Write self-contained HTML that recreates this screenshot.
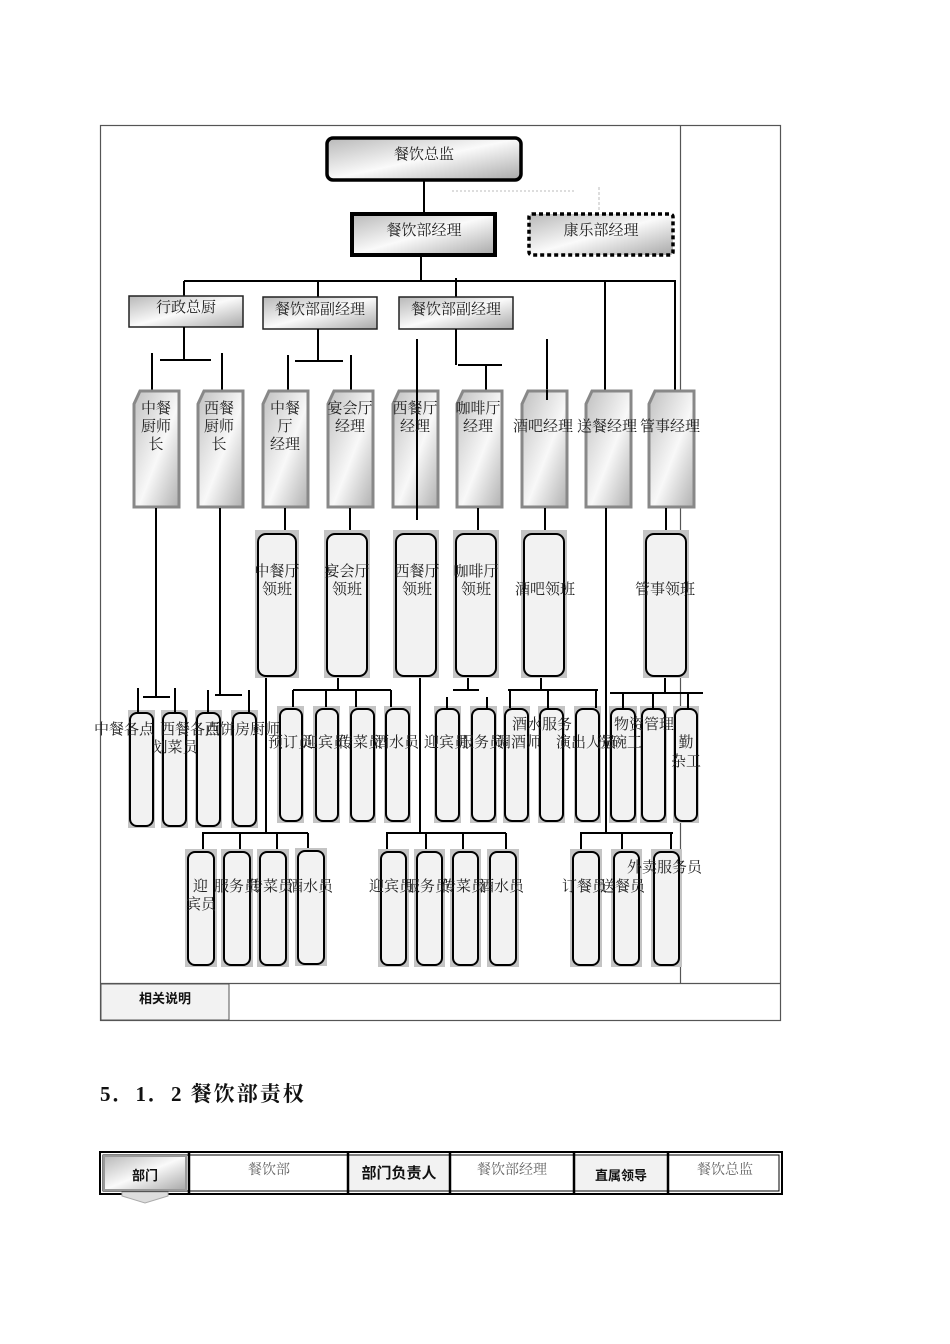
<!DOCTYPE html>
<html><head><meta charset="utf-8"><style>
body{margin:0;background:#fff}
svg{display:block}
text{font-family:"Liberation Serif","Noto Serif CJK SC","Noto Sans CJK SC",serif;font-size:15px;fill:#222}
.b{font-family:"Liberation Sans","Noto Sans CJK SC",sans-serif;font-weight:bold;font-size:13px;fill:#111}
.g{fill:#666;font-size:14px}
</style></head><body>
<svg width="950" height="1344" viewBox="0 0 950 1344" xmlns="http://www.w3.org/2000/svg">
<defs>
<linearGradient id="gr" x1="0" y1="0" x2="1" y2="1">
<stop offset="0" stop-color="#b8b8b8"/><stop offset="0.5" stop-color="#fafafa"/><stop offset="1" stop-color="#a8a8a8"/></linearGradient>
<linearGradient id="gt" x1="0" y1="0" x2="1" y2="1">
<stop offset="0" stop-color="#c0c0c0"/><stop offset="0.55" stop-color="#f8f8f8"/><stop offset="1" stop-color="#b0b0b0"/></linearGradient>
</defs>
<g fill="none" stroke="#555" stroke-width="1.2">
<rect x="100.5" y="125.5" width="680" height="895"/>
<line x1="680.5" y1="125" x2="680.5" y2="983"/>
<line x1="100" y1="983.5" x2="780" y2="983.5"/>
</g>
<rect x="101" y="984" width="128" height="36" fill="#f2f2f2" stroke="#555"/>
<text class="b" x="165" y="1003" text-anchor="middle">相关说明</text>

<rect x="327" y="138" width="194" height="42" rx="6" fill="url(#gr)" stroke="#000" stroke-width="3.5"/>
<text x="424" y="159" text-anchor="middle">餐饮总监</text>
<g stroke="#000" stroke-width="2" fill="none">
<line x1="424" y1="180" x2="424" y2="213"/>
<line x1="421" y1="256" x2="421" y2="281"/>
<line x1="184" y1="281" x2="676" y2="281"/>
<line x1="184" y1="281" x2="184" y2="296"/>
<line x1="318" y1="281" x2="318" y2="297"/>
<line x1="456" y1="278" x2="456" y2="297"/>
<line x1="605" y1="281" x2="605" y2="390"/>
<line x1="675" y1="281" x2="675" y2="390"/>
</g>
<line x1="452" y1="191" x2="575" y2="191" stroke="#bbb" stroke-dasharray="2,2"/>
<line x1="599" y1="187" x2="599" y2="212" stroke="#bbb" stroke-dasharray="3,2"/>
<rect x="352" y="214" width="143" height="41" fill="url(#gr)" stroke="#000" stroke-width="4"/>
<text x="424" y="235" text-anchor="middle">餐饮部经理</text>
<rect x="529" y="214" width="144" height="41" rx="3" fill="url(#gr)" stroke="#000" stroke-width="3.5" stroke-dasharray="4,3"/>
<text x="601" y="235" text-anchor="middle">康乐部经理</text>

<g fill="url(#gr)" stroke="#222" stroke-width="1.5">
<rect x="129" y="296" width="114" height="31"/>
<rect x="263" y="297" width="114" height="32"/>
<rect x="399" y="297" width="114" height="32"/>
</g>
<text x="186" y="312" text-anchor="middle">行政总厨</text>
<text x="320" y="314" text-anchor="middle">餐饮部副经理</text>
<text x="456" y="314" text-anchor="middle">餐饮部副经理</text>

<g stroke="#000" stroke-width="2" fill="none">
<line x1="184" y1="327" x2="184" y2="360"/><line x1="160" y1="360" x2="211" y2="360"/>
<line x1="152" y1="353" x2="152" y2="390"/><line x1="222" y1="353" x2="222" y2="390"/>
<line x1="318" y1="329" x2="318" y2="361"/><line x1="295" y1="361" x2="343" y2="361"/>
<line x1="288" y1="355" x2="288" y2="390"/><line x1="351" y1="355" x2="351" y2="390"/>
<line x1="456" y1="329" x2="456" y2="365"/><line x1="458" y1="365" x2="502" y2="365"/>
<line x1="486" y1="365" x2="486" y2="390"/>
<line x1="547" y1="339" x2="547" y2="400"/>
</g>

<g fill="url(#gt)" stroke="#888" stroke-width="3">
<path d="M140 391H179V507H134V404Z"/>
<path d="M204 391H243V507H198V404Z"/>
<path d="M269 391H308V507H263V404Z"/>
<path d="M334 391H373V507H328V404Z"/>
<path d="M399 391H438V507H393V404Z"/>
<path d="M463 391H502V507H457V404Z"/>
<path d="M528 391H567V507H522V404Z"/>
<path d="M592 391H631V507H586V404Z"/>
<path d="M655 391H694V507H649V404Z"/>
</g>
<line x1="417" y1="339" x2="417" y2="520" stroke="#000" stroke-width="2"/>
<line x1="547" y1="390" x2="547" y2="400" stroke="#000" stroke-width="2"/>
<g text-anchor="middle">
<text x="156" y="413">中餐</text><text x="156" y="431">厨师</text><text x="156" y="449">长</text>
<text x="219" y="413">西餐</text><text x="219" y="431">厨师</text><text x="219" y="449">长</text>
<text x="285" y="413">中餐</text><text x="285" y="431">厅</text><text x="285" y="449">经理</text>
<text x="350" y="413">宴会厅</text><text x="350" y="431">经理</text>
<text x="415" y="413">西餐厅</text><text x="415" y="431">经理</text>
<text x="478" y="413">咖啡厅</text><text x="478" y="431">经理</text>
<text x="543" y="431">酒吧经理</text>
<text x="607" y="431">送餐经理</text>
<text x="670" y="431">管事经理</text>
</g>

<g stroke="#000" stroke-width="2" fill="none">
<line x1="156" y1="508" x2="156" y2="697"/><line x1="220" y1="508" x2="220" y2="695"/>
<line x1="285" y1="508" x2="285" y2="530"/><line x1="350" y1="508" x2="350" y2="530"/>
<line x1="478" y1="508" x2="478" y2="530"/><line x1="545" y1="508" x2="545" y2="530"/>
<line x1="606" y1="508" x2="606" y2="833"/><line x1="666" y1="508" x2="666" y2="530"/>
</g>

<g>
<g fill="#c4c4c4"><rect x="255" y="530" width="44" height="148"/><rect x="324" y="530" width="46" height="148"/><rect x="393" y="530" width="46" height="148"/><rect x="453" y="530" width="46" height="148"/><rect x="521" y="530" width="46" height="148"/><rect x="643" y="530" width="46" height="148"/></g>
<g fill="#f2f2f2" stroke="#000" stroke-width="2"><rect x="258" y="534" width="38" height="142" rx="8"/><rect x="327" y="534" width="40" height="142" rx="8"/><rect x="396" y="534" width="40" height="142" rx="8"/><rect x="456" y="534" width="40" height="142" rx="8"/><rect x="524" y="534" width="40" height="142" rx="8"/><rect x="646" y="534" width="40" height="142" rx="8"/></g>
</g>
<g text-anchor="middle">
<text x="277" y="576">中餐厅</text><text x="277" y="594">领班</text>
<text x="347" y="576">宴会厅</text><text x="347" y="594">领班</text>
<text x="417" y="576">西餐厅</text><text x="417" y="594">领班</text>
<text x="476" y="576">咖啡厅</text><text x="476" y="594">领班</text>
<text x="545" y="594">酒吧领班</text>
<text x="665" y="594">管事领班</text>
</g>

<g fill="#c4c4c4">
<rect x="128" y="710" width="27" height="118"/><rect x="161" y="710" width="27" height="118"/><rect x="195" y="710" width="27" height="118"/><rect x="231" y="710" width="27" height="118"/>
<rect x="277" y="706" width="27" height="117"/><rect x="313" y="706" width="27" height="117"/><rect x="349" y="706" width="27" height="117"/><rect x="384" y="706" width="27" height="117"/>
<rect x="434" y="706" width="27" height="117"/><rect x="470" y="706" width="27" height="117"/><rect x="503" y="706" width="27" height="117"/><rect x="538" y="706" width="27" height="117"/><rect x="574" y="706" width="27" height="117"/>
<rect x="609" y="706" width="28" height="117"/><rect x="640" y="706" width="27" height="117"/><rect x="673" y="706" width="26" height="117"/>
</g>
<g fill="#f2f2f2" stroke="#000" stroke-width="2">
<rect x="130" y="713" width="23" height="113" rx="7"/><rect x="163" y="713" width="23" height="113" rx="7"/><rect x="197" y="713" width="23" height="113" rx="7"/><rect x="233" y="713" width="23" height="113" rx="7"/>
<rect x="280" y="709" width="22" height="112" rx="7"/><rect x="316" y="709" width="22" height="112" rx="7"/><rect x="351" y="709" width="23" height="112" rx="7"/><rect x="386" y="709" width="23" height="112" rx="7"/>
<rect x="436" y="709" width="23" height="112" rx="7"/><rect x="472" y="709" width="23" height="112" rx="7"/><rect x="505" y="709" width="23" height="112" rx="7"/><rect x="540" y="709" width="23" height="112" rx="7"/><rect x="576" y="709" width="23" height="112" rx="7"/>
<rect x="611" y="709" width="24" height="112" rx="7"/><rect x="642" y="709" width="23" height="112" rx="7"/><rect x="675" y="709" width="22" height="112" rx="7"/>
</g>

<g stroke="#000" stroke-width="2" fill="none">
<line x1="143" y1="697" x2="170" y2="697"/><line x1="138" y1="688" x2="138" y2="713"/><line x1="175" y1="688" x2="175" y2="713"/>
<line x1="215" y1="695" x2="242" y2="695"/><line x1="208" y1="690" x2="208" y2="713"/><line x1="249" y1="690" x2="249" y2="713"/>
<line x1="266" y1="678" x2="266" y2="833"/>
<line x1="338" y1="678" x2="338" y2="690"/><line x1="293" y1="690" x2="391" y2="690"/>
<line x1="293" y1="690" x2="293" y2="707"/><line x1="326" y1="690" x2="326" y2="707"/><line x1="356" y1="690" x2="356" y2="707"/><line x1="391" y1="690" x2="391" y2="707"/>
<line x1="420" y1="678" x2="420" y2="833"/>
<line x1="468" y1="678" x2="468" y2="690"/><line x1="453" y1="690" x2="479" y2="690"/>
<line x1="447" y1="697" x2="447" y2="710"/><line x1="487" y1="697" x2="487" y2="710"/>
<line x1="541" y1="678" x2="541" y2="690"/><line x1="508" y1="690" x2="598" y2="690"/>
<line x1="510" y1="690" x2="510" y2="708"/><line x1="548" y1="690" x2="548" y2="708"/><line x1="596" y1="690" x2="596" y2="708"/>
<line x1="665" y1="678" x2="665" y2="693"/><line x1="610" y1="693" x2="703" y2="693"/>
<line x1="623" y1="693" x2="623" y2="708"/><line x1="653" y1="693" x2="653" y2="708"/><line x1="688" y1="693" x2="688" y2="708"/>
</g>
<text x="94" y="734">中餐各点</text><text x="160" y="734">西餐各点</text><text x="205" y="734">西饼房厨师</text>
<text x="175" y="752" text-anchor="middle">划菜员</text>
<text x="268" y="747">预订员</text><text x="303" y="747">迎宾员</text><text x="338" y="747">传菜员</text><text x="374" y="747">酒水员</text>
<text x="424" y="747">迎宾员</text><text x="459" y="747">服务员</text><text x="496" y="747">调酒师</text>
<text x="512" y="729">酒水服务</text><text x="556" y="747">演出人员</text><text x="597" y="747">洗碗工</text>
<text x="614" y="729">物资管理</text><text x="686" y="747" text-anchor="middle">勤</text><text x="686" y="766" text-anchor="middle">杂工</text>

<g stroke="#000" stroke-width="2" fill="none">
<line x1="202" y1="833" x2="308" y2="833"/>
<line x1="203" y1="833" x2="203" y2="851"/><line x1="240" y1="833" x2="240" y2="851"/><line x1="277" y1="833" x2="277" y2="851"/><line x1="308" y1="833" x2="308" y2="851"/>
<line x1="386" y1="833" x2="506" y2="833"/>
<line x1="387" y1="833" x2="387" y2="851"/><line x1="426" y1="833" x2="426" y2="851"/><line x1="463" y1="833" x2="463" y2="851"/><line x1="506" y1="833" x2="506" y2="851"/>
<line x1="580" y1="833" x2="673" y2="833"/>
<line x1="581" y1="833" x2="581" y2="851"/><line x1="622" y1="833" x2="622" y2="851"/><line x1="671" y1="833" x2="671" y2="851"/>
</g>
<g fill="#c4c4c4">
<rect x="185" y="849" width="32" height="118"/><rect x="221" y="849" width="32" height="118"/><rect x="257" y="849" width="32" height="118"/><rect x="295" y="848" width="32" height="118"/>
<rect x="378" y="849" width="31" height="118"/><rect x="414" y="849" width="31" height="118"/><rect x="450" y="849" width="31" height="118"/><rect x="487" y="849" width="32" height="118"/>
<rect x="570" y="849" width="32" height="118"/><rect x="611" y="849" width="31" height="118"/><rect x="651" y="849" width="31" height="118"/>
</g>
<g fill="#f2f2f2" stroke="#000" stroke-width="2">
<rect x="188" y="852" width="26" height="113" rx="7"/><rect x="224" y="852" width="26" height="113" rx="7"/><rect x="260" y="852" width="26" height="113" rx="7"/><rect x="298" y="851" width="26" height="113" rx="7"/>
<rect x="381" y="852" width="25" height="113" rx="7"/><rect x="417" y="852" width="25" height="113" rx="7"/><rect x="453" y="852" width="25" height="113" rx="7"/><rect x="490" y="852" width="26" height="113" rx="7"/>
<rect x="573" y="852" width="26" height="113" rx="7"/><rect x="614" y="852" width="25" height="113" rx="7"/><rect x="654" y="852" width="25" height="113" rx="7"/>
</g>
<text x="193" y="891">迎</text><text x="186" y="909">宾员</text>
<text x="214" y="891">服务员</text><text x="248" y="891">传菜员</text><text x="288" y="891">酒水员</text>
<text x="369" y="891">迎宾员</text><text x="405" y="891">服务员</text><text x="441" y="891">传菜员</text><text x="479" y="891">酒水员</text>
<text x="562" y="891">订餐员</text><text x="600" y="891">送餐员</text><text x="627" y="872">外卖服务员</text>

<text x="100" y="1101" style="font-size:21px;font-weight:bold;fill:#111;letter-spacing:2px">5．1．2 餐饮部责权</text>

<rect x="100" y="1152" width="682" height="42" fill="#fff" stroke="#000" stroke-width="2"/>
<rect x="103" y="1155" width="676" height="36" fill="none" stroke="#000" stroke-width="1"/>
<rect x="104" y="1156" width="82" height="34" fill="url(#gr)" stroke="#999" stroke-width="2"/>
<path d="M122 1192H168V1196L145 1203L122 1196Z" fill="#ddd" stroke="#aaa"/>
<rect x="349" y="1156" width="100" height="34" fill="#f2f2f2"/>
<rect x="575" y="1156" width="92" height="34" fill="#f2f2f2"/>
<g stroke="#000" stroke-width="2.5">
<line x1="189" y1="1153" x2="189" y2="1193"/><line x1="348" y1="1153" x2="348" y2="1193"/><line x1="450" y1="1153" x2="450" y2="1193"/>
<line x1="574" y1="1153" x2="574" y2="1193"/><line x1="668" y1="1153" x2="668" y2="1193"/>
</g>
<text class="b" x="145" y="1180" text-anchor="middle">部门</text>
<text class="g" x="269" y="1174" text-anchor="middle">餐饮部</text>
<text class="b" x="399" y="1178" text-anchor="middle" style="font-size:15px">部门负责人</text>
<text class="g" x="512" y="1174" text-anchor="middle">餐饮部经理</text>
<text class="b" x="621" y="1180" text-anchor="middle">直属领导</text>
<text class="g" x="725" y="1174" text-anchor="middle">餐饮总监</text>
</svg>
</body></html>
